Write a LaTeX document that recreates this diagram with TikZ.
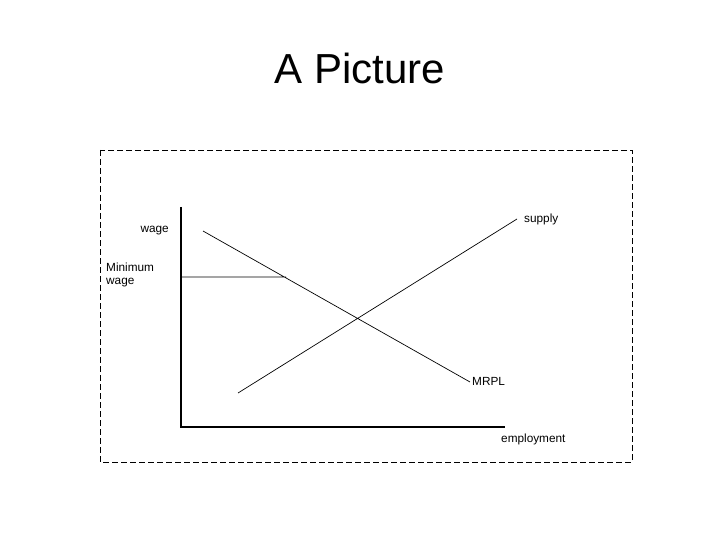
\documentclass[tikz,border=0pt]{standalone}
\usepackage{fontspec}
\setmainfont{Liberation Sans}
\usepackage{tikz}
\usetikzlibrary{positioning, calc}
\tikzstyle{lbl}=[%
      inner sep=0pt, font=\fontsize{11.8}{13}\selectfont, align=left
]
\tikzstyle{axis}=[%
      draw=black, line width=1.1pt
]
\tikzstyle{curve}=[%
      draw=black, line width=0.7pt
]

\begin{document}
\begin{tikzpicture}[x=1pt, y=-1pt]
    \useasboundingbox (0,0) rectangle (720,540);
    \node (title) at (360,68) {\fontsize{42}{46}\selectfont A Picture};
    \draw[dash pattern=on 6pt off 3pt, line width=0.7pt] (100,150) rectangle (632,462);

    \coordinate (origin) at (181,427);
    \coordinate (ytop)   at (181,207);
    \coordinate (xend)   at (505,427);
    \coordinate (mw)     at (181,277);
    \coordinate (mwend)  at (286,277);
    \coordinate (dtop)   at (203,231);
    \coordinate (dbot)   at (470,382);
    \coordinate (sbot)   at (238,393);
    \coordinate (stop)   at (517,219);

    \node[lbl, anchor=west] (supply)  at (524,219) {supply};
    \node[lbl, anchor=east] (wage)    at (169,231) {wage};
    \node[lbl, anchor=west] (minwage) at (106,275) {Minimum\\wage};
    \node[lbl, anchor=west] (mrpl)    at (472,381) {MRPL};
    \node[lbl, anchor=west] (employ)  at (501,439) {employment};

    \path[axis] (ytop) -- (origin) -- (xend);
    \path[curve] (mw) -- (mwend)
                 (dtop) -- (dbot)
                 (sbot) -- (stop);
\end{tikzpicture}
\end{document}
